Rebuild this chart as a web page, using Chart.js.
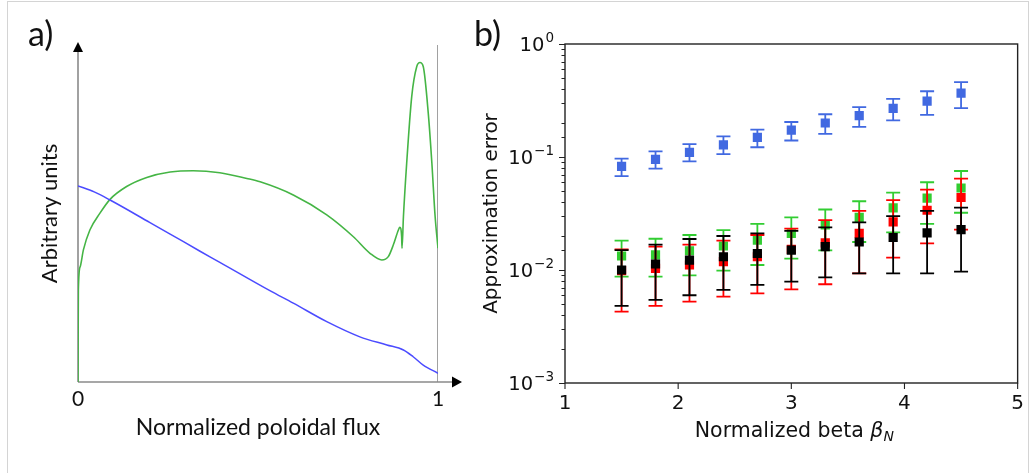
<!DOCTYPE html>
<html>
<head>
<meta charset="utf-8">
<script src="https://cdn.jsdelivr.net/npm/chart.js@4.4.1/dist/chart.umd.min.js"></script>
<style>
  body{margin:0;width:1033px;height:473px;background:#fff;position:relative;overflow:hidden}
  #frame{position:absolute;left:7px;top:1px;width:1022px;height:500px;border:1px solid #d4d4d4;box-sizing:border-box}
  .wrap{position:absolute;top:0;height:473px}
  .tag{position:absolute;font-family:Lato,sans-serif;font-size:34px;color:#111;line-height:1}
</style>
</head>
<body>
<div id="frame"></div>
<div class="wrap" style="left:0;width:470px"><canvas id="chart_a"></canvas></div>
<div class="wrap" style="left:470px;width:563px"><canvas id="chart_b"></canvas></div>
<div class="tag" style="left:28px;top:16px">a)</div>
<div class="tag" style="left:474px;top:16px">b)</div>
<script>
// ---------- panel a: profiles vs normalized flux ----------
const fluxTicks=[0,1];
const fluxBlue=[0,0.045,0.089,0.2,0.256,0.339,0.394,0.533,0.598,0.691,0.783,0.858,0.904,0.931,0.959,1.0];
const blueProfile=[0.582,0.564,0.540,0.473,0.439,0.388,0.355,0.271,0.234,0.179,0.134,0.110,0.095,0.075,0.050,0.026];
const fluxGreen=[0,0.001,0.006,0.015,0.033,0.061,0.089,0.135,0.191,0.256,0.320,0.394,0.469,0.506,0.598,0.691,0.765,0.811,0.844,0.862,0.876,0.890,0.894,0.899,0.900,0.904,0.913,0.927,0.941,0.950,0.959,0.973,0.983,0.992,1.0];
const greenProfile=[0,0.273,0.342,0.392,0.451,0.501,0.542,0.580,0.607,0.623,0.627,0.621,0.604,0.594,0.555,0.496,0.431,0.382,0.362,0.372,0.407,0.451,0.459,0.431,0.397,0.491,0.649,0.847,0.936,0.948,0.936,0.797,0.649,0.491,0.397];
const edgeFlux=[1,1];
const edgeLevel=[0,1];

// ---------- panel b: approximation error vs beta_N ----------
const betaN=[1.5,1.8,2.1,2.4,2.7,3.0,3.3,3.6,3.9,4.2,4.5];
const blueMid=[0.0827,0.0953,0.110,0.128,0.149,0.173,0.200,0.232,0.269,0.312,0.367];
const blueLo=[0.0676,0.0789,0.0916,0.106,0.122,0.140,0.160,0.185,0.211,0.236,0.271];
const blueHi=[0.0967,0.112,0.130,0.152,0.175,0.204,0.239,0.276,0.327,0.382,0.459];
const greenMid=[0.0133,0.0136,0.0148,0.0163,0.0184,0.0211,0.0251,0.0292,0.0355,0.0432,0.0532];
const greenLo=[0.00873,0.00873,0.00897,0.00987,0.01107,0.0126,0.0149,0.0177,0.0215,0.0256,0.0321];
const greenHi=[0.0182,0.0189,0.0204,0.0225,0.0256,0.0292,0.0343,0.0406,0.0484,0.0598,0.0752];
const redMid=[0.00987,0.01035,0.01107,0.01185,0.0131,0.0152,0.0174,0.0211,0.0267,0.0338,0.0438];
const redLo=[0.00429,0.00481,0.00526,0.00582,0.00622,0.00675,0.00748,0.00935,0.01285,0.0172,0.0228];
const redHi=[0.0152,0.0161,0.0168,0.0182,0.0204,0.0232,0.0276,0.0334,0.0415,0.0515,0.0644];
const blackMid=[0.0100,0.0113,0.01225,0.0131,0.0140,0.0150,0.0161,0.0177,0.0194,0.0213,0.0228];
const blackLo=[0.00481,0.00543,0.00598,0.00667,0.00738,0.00789,0.00861,0.00935,0.00935,0.00935,0.00967];
const blackHi=[0.0150,0.0168,0.0188,0.0200,0.0211,0.0222,0.0238,0.0264,0.0300,0.0334,0.0357];
const decadeExps=['\u22123','\u22122','\u22121','0'];

const points=(xs,ys)=>xs.map((x,i)=>({x,y:ys[i]}));

// arrowed axes for panel a (drawn under the curves)
const arrowAxes={
  id:'arrowAxes',
  beforeDatasetsDraw(chart){
    const {ctx,chartArea:{left,bottom}}=chart;
    const xEnd=462, yEnd=42;
    ctx.save();
    ctx.strokeStyle='#8a8a8a';ctx.lineWidth=1.6;
    ctx.beginPath();
    ctx.moveTo(left,bottom);ctx.lineTo(xEnd-8,bottom);
    ctx.moveTo(left,bottom);ctx.lineTo(left,yEnd+8);
    ctx.stroke();
    ctx.fillStyle='#000';
    ctx.beginPath();ctx.moveTo(xEnd,bottom);ctx.lineTo(xEnd-10,bottom-5.5);ctx.lineTo(xEnd-10,bottom+5.5);ctx.closePath();ctx.fill();
    ctx.beginPath();ctx.moveTo(left,yEnd);ctx.lineTo(left-5,yEnd+10);ctx.lineTo(left+5,yEnd+10);ctx.closePath();ctx.fill();
    ctx.restore();
  }
};

// error bars drawn just before each dataset's markers
const errorBars={
  id:'errorBars',
  beforeDatasetDraw(chart,args){
    const ds=chart.data.datasets[args.index];
    if(!ds.errLo) return;
    const xs=chart.scales.x, ys=chart.scales.y, ctx=chart.ctx;
    ctx.save();
    ctx.strokeStyle=ds.backgroundColor;ctx.lineWidth=1.8;
    ds.data.forEach((p,i)=>{
      const px=xs.getPixelForValue(p.x);
      const lo=ys.getPixelForValue(ds.errLo[i]), hi=ys.getPixelForValue(ds.errHi[i]);
      ctx.beginPath();
      ctx.moveTo(px,lo);ctx.lineTo(px,hi);
      ctx.moveTo(px-7,lo);ctx.lineTo(px+7,lo);
      ctx.moveTo(px-7,hi);ctx.lineTo(px+7,hi);
      ctx.stroke();
    });
    ctx.restore();
  }
};

// matplotlib-like frame, outward ticks, 10^n labels and mixed-font x title for panel b
const mplFrame={
  id:'mplFrame',
  afterDraw(chart){
    const {ctx,chartArea:a}=chart;
    const xs=chart.scales.x, ys=chart.scales.y;
    ctx.save();
    ctx.strokeStyle='#222';ctx.lineWidth=1.4;
    ctx.strokeRect(a.left,a.top,a.right-a.left,a.bottom-a.top);
    ctx.beginPath();
    xs.ticks.forEach(t=>{const px=xs.getPixelForValue(t.value);ctx.moveTo(px,a.bottom);ctx.lineTo(px,a.bottom+6);});
    ctx.fillStyle='#111';ctx.textBaseline='middle';
    ys.ticks.forEach(t=>{
      const py=Math.round(ys.getPixelForValue(t.value))+0.5;
      const lg=Math.log10(t.value), r=Math.round(lg);
      const major=Math.abs(lg-r)<1e-6;
      ctx.moveTo(a.left,py);ctx.lineTo(a.left-(major?6:3.5),py);
      if(major){
        const exp=decadeExps[r+3];
        ctx.font='13.5px "DejaVu Sans"';const we=ctx.measureText(exp).width;
        const xr=a.left-11;
        ctx.textAlign='right';ctx.fillText(exp,xr,py-6);
        ctx.font='19.5px "DejaVu Sans"';ctx.fillText('10',xr-we-1,py+1);
      }
    });
    ctx.lineWidth=1.1;ctx.stroke();
    // x title: Normalized beta β_N
    const big='20.5px "DejaVu Sans"', it='italic 20.5px "DejaVu Sans"', sub='italic 14px "DejaVu Sans"';
    const s1='Normalized beta ', s2='\u03B2', s3='N';
    ctx.font=big;const w1=ctx.measureText(s1).width;
    ctx.font=it;const w2=ctx.measureText(s2).width;
    ctx.font=sub;const w3=ctx.measureText(s3).width;
    let x0=(a.left+a.right)/2-(w1+w2+w3)/2+3;const base=437;
    ctx.textBaseline='alphabetic';ctx.textAlign='left';
    ctx.font=big;ctx.fillText(s1,x0,base);x0+=w1;
    ctx.font=it;ctx.fillText(s2,x0,base);x0+=w2;
    ctx.font=sub;ctx.fillText(s3,x0,base+4);
    ctx.restore();
  }
};

function makeProfiles(){
  const ctx=document.getElementById('chart_a').getContext('2d');
  return new Chart(ctx,{type:'line',
    data:{datasets:[
      {data:points(fluxBlue,blueProfile),borderColor:'#4b4bff',borderWidth:1.5,cubicInterpolationMode:'monotone'},
      {data:points(fluxGreen,greenProfile),borderColor:'#45b545',borderWidth:1.6,cubicInterpolationMode:'monotone'},
      {data:points(edgeFlux,edgeLevel),borderColor:'#8a8a8a',borderWidth:1.6,tension:0}
    ]},
    options:{animation:false,responsive:true,maintainAspectRatio:false,
      layout:{padding:{left:0,right:32,top:45,bottom:0}},
      elements:{point:{radius:0}},
      scales:{
        x:{type:'linear',min:0,max:1,afterFit:s=>{s.height=91;},
          afterBuildTicks:s=>{s.ticks=fluxTicks.map(v=>({value:v}));},
          grid:{display:false,drawTicks:false},border:{display:false},
          ticks:{padding:5,color:'#111',font:{family:'Lato',size:21},maxRotation:0},
          title:{display:true,text:'Normalized poloidal flux',color:'#111',font:{family:'Lato',size:23},padding:{bottom:32}}},
        y:{min:0,max:1,afterFit:s=>{s.width=78;},
          grid:{display:false,drawTicks:false},border:{display:false},ticks:{display:false},
          title:{display:true,text:'Arbitrary units',color:'#111',font:{family:'Lato',size:22},padding:{top:37}}}
      },
      plugins:{legend:{display:false},tooltip:{enabled:false}}
    },
    plugins:[arrowAxes]
  });
}

function makeErrors(){
  const ctx=document.getElementById('chart_b').getContext('2d');
  const sq=(label,mid,lo,hi,color)=>({label,data:points(betaN,mid),errLo:lo,errHi:hi,
    backgroundColor:color,borderWidth:0,pointStyle:'rect',pointRadius:6.5,showLine:false});
  return new Chart(ctx,{type:'scatter',
    data:{datasets:[
      sq('black',blackMid,blackLo,blackHi,'#000000'),
      sq('red',redMid,redLo,redHi,'#ff0000'),
      sq('green',greenMid,greenLo,greenHi,'#32cd32'),
      sq('blue',blueMid,blueLo,blueHi,'#4169e1')
    ]},
    options:{animation:false,responsive:true,maintainAspectRatio:false,
      layout:{padding:{left:0,right:15,top:44,bottom:0}},
      scales:{
        x:{type:'linear',min:1,max:5,afterFit:s=>{s.height=90;},
          grid:{display:false,drawTicks:false},border:{display:false},
          ticks:{stepSize:1,padding:9,color:'#111',font:{family:'DejaVu Sans',size:20},maxRotation:0}},
        y:{type:'logarithmic',min:0.001,max:1,afterFit:s=>{s.width=95;},
          grid:{display:false,drawTicks:false},border:{display:false},
          ticks:{display:false},
          title:{display:true,text:'Approximation error',color:'#111',font:{family:'DejaVu Sans',size:20},padding:{top:10}}}
      },
      plugins:{legend:{display:false},tooltip:{enabled:false}}
    },
    plugins:[errorBars,mplFrame]
  });
}

makeProfiles();
makeErrors();
</script>
</body>
</html>
